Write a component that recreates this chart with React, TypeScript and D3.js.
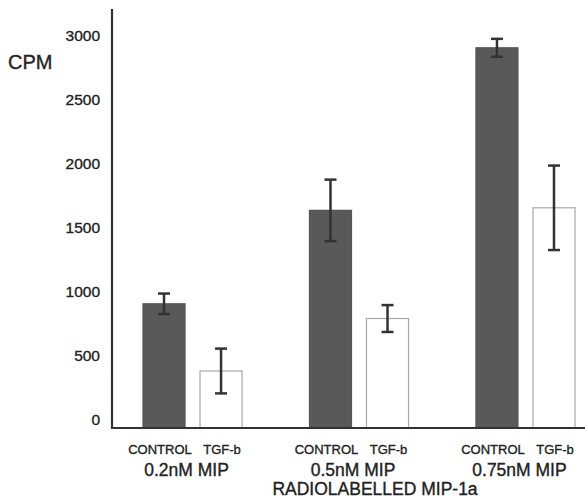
import React, { useRef, useEffect } from 'react';
import * as d3 from 'd3';

const groups = ['0.2nM MIP', '0.5nM MIP', '0.75nM MIP'];
const treatments = ['CONTROL', 'TGF-b'];
const controlMeans = [900, 1630, 2900];
const controlErrors = [80, 240, 70];
const tgfMeans = [375, 785, 1650];
const tgfErrors = [175, 105, 330];
const yTicks = [0, 500, 1000, 1500, 2000, 2500, 3000];

const App = () => {
    const svgRef = useRef<SVGSVGElement>(null);

    useEffect(() => {
        const svg = d3.select(svgRef.current);
        svg.selectAll('*').remove();

        const font = '"Liberation Sans", Arial, Helvetica, sans-serif';
        const y = d3.scaleLinear().domain([0, 3000]).range([419, 35]);
        const baseline = y(0) + 9;
        const axisX = 112;

        const x0 = d3.scaleBand().domain(groups).range([143, 575]).paddingInner(0.405).paddingOuter(0);
        const x1 = d3.scaleBand().domain(treatments).range([0, x0.bandwidth()]).paddingInner(0.263).paddingOuter(0);

        const rows = groups.flatMap((g, i) => [
            { group: g, treat: 'CONTROL', mean: controlMeans[i], err: controlErrors[i] },
            { group: g, treat: 'TGF-b', mean: tgfMeans[i], err: tgfErrors[i] },
        ]);

        const bw = x1.bandwidth();

        svg.selectAll('.bar')
            .data(rows)
            .enter()
            .append('rect')
            .attr('x', d => (x0(d.group) as number) + (x1(d.treat) as number))
            .attr('y', d => y(d.mean))
            .attr('width', bw)
            .attr('height', d => baseline - y(d.mean))
            .attr('fill', d => d.treat === 'CONTROL' ? '#595959' : '#ffffff')
            .attr('stroke', d => d.treat === 'CONTROL' ? '#555' : '#a8a8a8')
            .attr('stroke-width', 1.2);

        const cx = d => (x0(d.group) as number) + (x1(d.treat) as number) + bw / 2;
        const eb = svg.append('g').attr('stroke', '#333').attr('stroke-width', 2.5);
        rows.forEach(d => {
            eb.append('line').attr('x1', cx(d)).attr('x2', cx(d))
                .attr('y1', y(d.mean + d.err)).attr('y2', y(d.mean - d.err));
            [d.mean + d.err, d.mean - d.err].forEach(v => {
                eb.append('line').attr('x1', cx(d) - 6).attr('x2', cx(d) + 6)
                    .attr('y1', y(v)).attr('y2', y(v));
            });
        });

        // axes
        svg.append('line').attr('x1', axisX).attr('x2', axisX).attr('y1', 9).attr('y2', baseline + 1)
            .attr('stroke', '#333').attr('stroke-width', 2.2);
        svg.append('line').attr('x1', axisX).attr('x2', 585).attr('y1', baseline).attr('y2', baseline)
            .attr('stroke', '#333').attr('stroke-width', 2.2);

        const txt = sel => sel.style('font-family', font).attr('fill', '#222')
            .attr('stroke', '#222').attr('stroke-width', 0.35);

        svg.selectAll('.tick')
            .data(yTicks)
            .enter()
            .append('text')
            .attr('x', 100)
            .attr('y', d => y(d))
            .attr('dy', '0.36em')
            .attr('text-anchor', 'end')
            .style('font-size', '15.5px')
            .call(txt)
            .text(d => d);

        svg.append('text')
            .attr('x', 8).attr('y', 69)
            .style('font-size', '20px')
            .call(txt)
            .text('CPM');

        svg.selectAll('.tlab')
            .data(rows)
            .enter()
            .append('text')
            .attr('x', d => cx(d) + (d.treat === 'CONTROL' ? -4 : 1))
            .attr('y', 454)
            .attr('text-anchor', 'middle')
            .style('font-size', '13px')
            .call(txt)
            .text(d => d.treat);

        svg.selectAll('.glab')
            .data(groups)
            .enter()
            .append('text')
            .attr('x', d => (x0(d) as number) + x0.bandwidth() / 2 - 6)
            .attr('y', 476)
            .attr('text-anchor', 'middle')
            .style('font-size', '17.5px')
            .call(txt)
            .text(d => d);

        svg.append('text')
            .attr('x', 375).attr('y', 495)
            .attr('text-anchor', 'middle')
            .style('font-size', '17.5px')
            .call(txt)
            .text('RADIOLABELLED MIP-1a');
    }, []);

    return <svg ref={svgRef} width={585} height={501} style={{ position: 'absolute', left: 0, top: 0, background: '#fff' }}></svg>;
};

export default App;
